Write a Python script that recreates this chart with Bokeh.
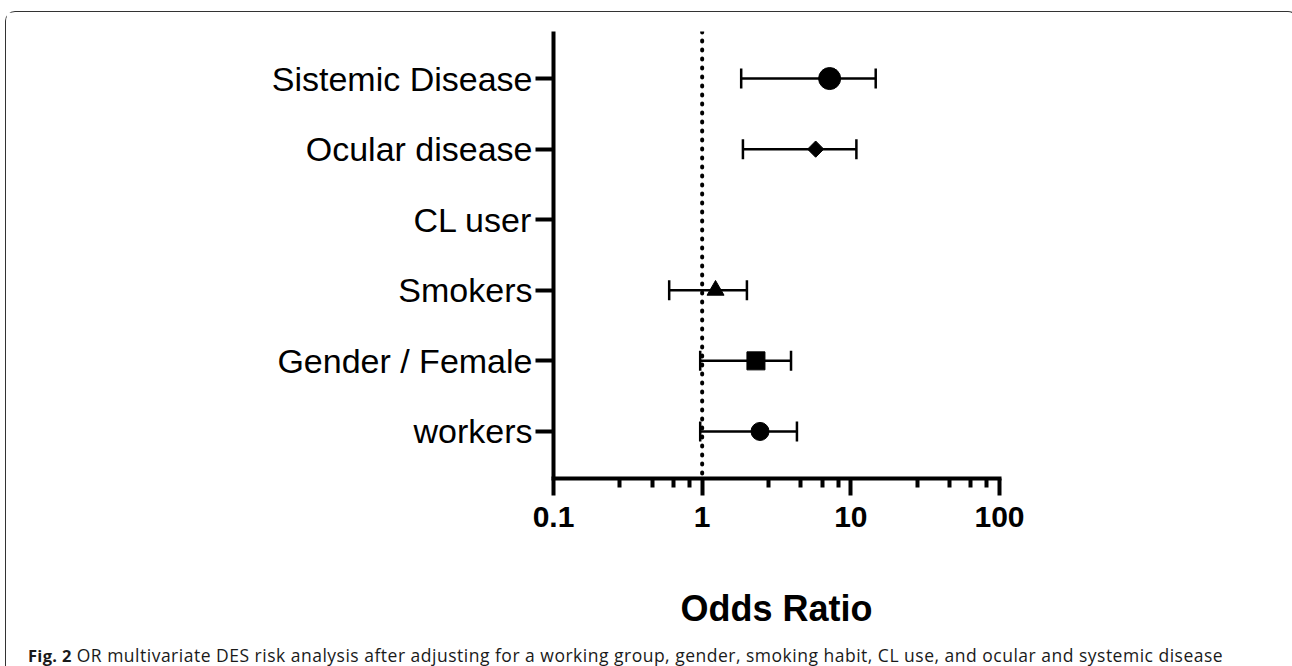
import math
from bokeh.plotting import figure
from bokeh.layouts import column
from bokeh.models import (Range1d, FixedTicker, Whisker, ColumnDataSource, TeeHead,
                          Span, Div)
from bokeh.embed import file_html
from bokeh.resources import INLINE

# ---- data (bottom to top) ----
categories = ["workers", "Gender / Female", "Smokers", "CL user", "Ocular disease", "Sistemic Disease"]
odds_ratio = [2.45, 2.3, 1.23, None, 5.8, 7.2]
ci_lower = [0.97, 0.97, 0.60, None, 1.88, 1.83]
ci_upper = [4.34, 3.96, 2.0, None, 10.9, 14.7]
x_ticks = [0.1, 1, 10, 100]
x_tick_labels = ["0.1", "1", "10", "100"]
x_minor_ticks = [0.28, 0.46, 0.64, 0.82, 2.8, 4.6, 6.4, 8.2, 28, 46, 64, 82]
reference_line = 1
axis_title = "Odds Ratio"
caption_bold = "Fig. 2"
caption_text = ("OR multivariate DES risk analysis after adjusting for a working group, gender, "
                "smoking habit, CL use, and ocular and systemic disease")

# ---- styles ----
marker_types = ["circle", "square", "triangle", None, "square", "circle"]
marker_sizes = [18, 18, 17, None, 11.5, 22]
marker_angles = [0, 0, 0, None, math.pi / 4, 0]

W, H = 1281, 626
FL, FR, FT, FB = 547, 993, 19, 466

ys = [i + 1 for i in range(len(categories))]
rows = [i for i in range(len(categories)) if odds_ratio[i] is not None]
src = ColumnDataSource(dict(
    y=[ys[i] for i in rows],
    orv=[odds_ratio[i] for i in rows],
    lo=[ci_lower[i] for i in rows],
    hi=[ci_upper[i] for i in rows],
    marker=[marker_types[i] for i in rows],
    size=[marker_sizes[i] for i in rows],
    angle=[marker_angles[i] for i in rows],
))

p = figure(width=W, height=H, x_axis_type="log",
           x_range=Range1d(x_ticks[0], x_ticks[-1]),
           y_range=Range1d(1 - 2 / 3, len(categories) + 2 / 3),
           output_backend="svg", toolbar_location=None,
           min_border_left=FL, min_border_right=W - FR,
           min_border_top=FT, min_border_bottom=H - FB)
p.outline_line_color = None
p.xgrid.visible = False
p.ygrid.visible = False
p.background_fill_color = "white"
p.border_fill_color = "white"

# y axis
ya = p.yaxis[0]
ya.ticker = FixedTicker(ticks=ys)
ya.major_label_overrides = {y: c for y, c in zip(ys, categories)}
ya.minor_tick_line_color = None
ya.axis_line_width = 4
ya.axis_line_color = "black"
ya.major_tick_line_width = 4
ya.major_tick_line_color = "black"
ya.major_tick_out = 18
ya.major_tick_in = 0
ya.major_label_standoff = 3
ya.major_label_text_font = "Liberation Sans"
ya.major_label_text_font_size = "34px"
ya.major_label_text_color = "black"

# x axis
xa = p.xaxis[0]
xa.ticker = FixedTicker(ticks=x_ticks, minor_ticks=x_minor_ticks)
xa.major_label_overrides = {t: l for t, l in zip(x_ticks, x_tick_labels)}
xa.axis_line_width = 4
xa.axis_line_color = "black"
xa.axis_line_cap = "square"
xa.major_tick_line_width = 4
xa.major_tick_line_color = "black"
xa.major_tick_out = 17
xa.major_tick_in = 0
xa.minor_tick_line_width = 4
xa.minor_tick_line_color = "black"
xa.minor_tick_out = 9
xa.minor_tick_in = 0
xa.major_label_standoff = 11
xa.major_label_text_font = "Liberation Sans"
xa.major_label_text_font_style = "bold"
xa.major_label_text_font_size = "30px"
xa.major_label_text_color = "black"
xa.axis_label = axis_title
xa.axis_label_text_font = "Liberation Sans"
xa.axis_label_text_font_style = "bold"
xa.axis_label_text_font_size = "36px"
xa.axis_label_text_color = "black"
xa.axis_label_standoff = 58

# reference line (dotted)
p.add_layout(Span(location=reference_line, dimension="height", line_color="black",
                  line_width=4, line_dash="1 8", line_cap="round"))

# error bars
wh = Whisker(base="y", lower="lo", upper="hi", dimension="width", source=src,
             line_color="black", line_width=2.5, level="underlay",
             upper_head=TeeHead(size=20, line_width=2.5, line_color="black"),
             lower_head=TeeHead(size=20, line_width=2.5, line_color="black"))
p.add_layout(wh)

# markers
p.scatter(x="orv", y="y", marker="marker", size="size", angle="angle", source=src,
          fill_color="black", line_color="black", line_width=1)

# caption (real text, bold figure number)
cap = Div(text=(f"<b style='font-size:16.5px;letter-spacing:0.3px'>{caption_bold}</b> "
                f"{caption_text}"),
          width=W, height=24,
          styles={"font-family": "'Open Sans', sans-serif", "font-size": "17.5px",
                  "letter-spacing": "0.5px",
                  "color": "#1a1a1a", "white-space": "nowrap", "overflow": "visible",
                  "position": "relative", "top": "0px", "padding-left": "17px",
                  "line-height": "normal"})

layout = column(p, cap, spacing=0,
                styles={"border": "1.5px solid #333333", "border-bottom": "none",
                        "border-radius": "10px 10px 0 0", "background": "white",
                        "margin-left": "5px", "margin-top": "11px"})

open("out.html", "w").write(file_html(layout, INLINE))
